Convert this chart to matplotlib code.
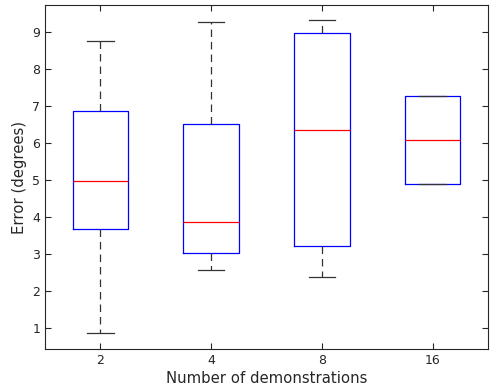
import matplotlib
matplotlib.use("Agg")
import matplotlib.pyplot as plt

categories = ["2", "4", "8", "16"]
whislo = [0.87, 2.56, 2.37, 4.88]
q1 = [3.67, 3.03, 3.22, 4.88]
med = [4.98, 3.87, 6.35, 6.08]
q3 = [6.87, 6.50, 8.98, 7.28]
whishi = [8.77, 9.27, 9.32, 7.28]

stats = []
for i, c in enumerate(categories):
    stats.append(dict(label=c, whislo=whislo[i], q1=q1[i], med=med[i],
                      q3=q3[i], whishi=whishi[i], fliers=[]))

fig = plt.figure(figsize=(4.9, 3.92), dpi=100)
ax = fig.add_axes([45/490, 43/392, 443/490, 344/392])
ax.bxp(stats, positions=range(1, len(categories)+1), widths=0.5,
       showfliers=False,
       boxprops=dict(color="blue", linewidth=0.9),
       medianprops=dict(color="red", linewidth=0.9),
       whiskerprops=dict(color="#333333", linestyle=(0, (6, 4)), linewidth=0.9),
       capprops=dict(color="#333333", linewidth=0.9),
       capwidths=0.24)
ax.set_xlim(0.5, 4.5)
ax.set_ylim(0.43, 9.73)
ax.set_yticks(range(1, 10))
ax.set_xticks(range(1, 5))
ax.set_xticklabels(categories)
ax.tick_params(direction="in", top=True, right=True, labelsize=9,
               colors="#262626", length=4)
for s in ax.spines.values():
    s.set_color("#262626")
    s.set_linewidth(0.8)
ax.set_xlabel("Number of demonstrations", fontsize=10.7, color="#262626", labelpad=3)
ax.set_ylabel("Error (degrees)", fontsize=10.7, color="#262626", labelpad=4)
fig.savefig("out.png", dpi=100)
